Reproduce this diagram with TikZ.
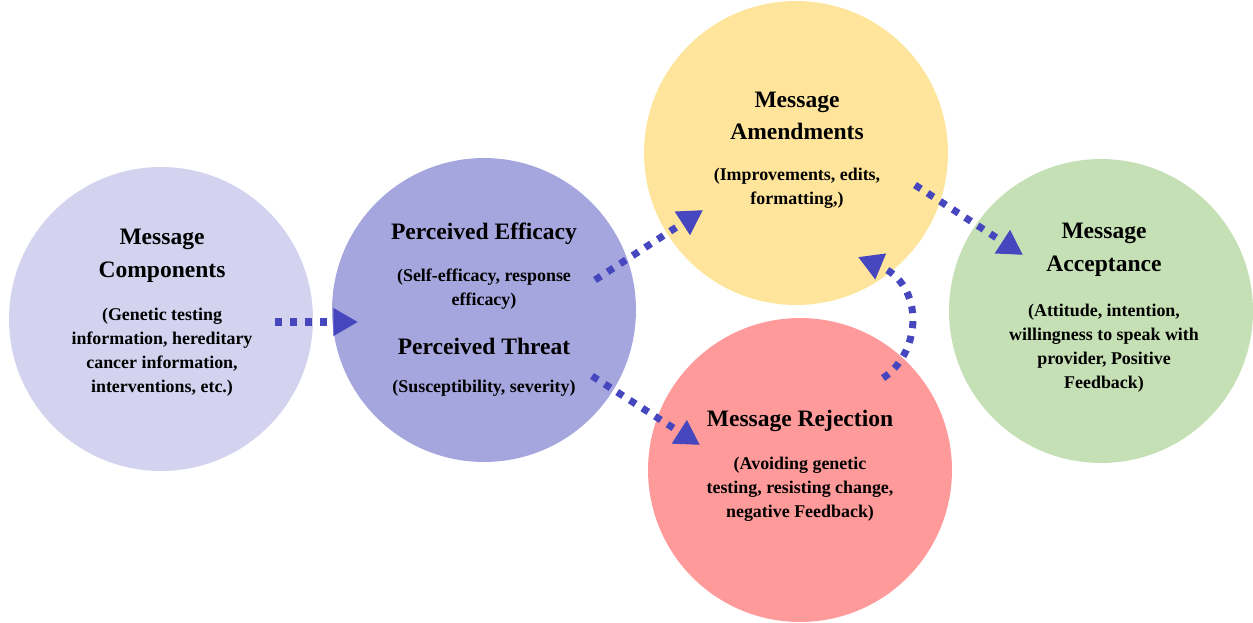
\documentclass[tikz,border=0pt]{standalone}
\usepackage{fontspec}
\setmainfont{Liberation Serif}
\usetikzlibrary{arrows.meta,positioning}
\definecolor{CompLavender}{HTML}{D3D3F0}
\definecolor{EffPurple}{HTML}{A6A6DF}
\definecolor{AmendYellow}{HTML}{FFE49B}
\definecolor{RejectRed}{HTML}{FF9A9A}
\definecolor{AcceptGreen}{HTML}{C6E0B5}
\definecolor{ArrowBlue}{HTML}{4646BE}
\tikzset{
    % Base circle style
    basecircle/.style={
        circle,
        draw=none,
        minimum size=6.08cm,
        inner sep=0pt
    },
    % Title text
    titletext/.style={
        align=center,
        font=\fontsize{13.4}{18.6}\selectfont\bfseries
    },
    % Detail text
    subtext/.style={
        align=center,
        font=\fontsize{10.2}{13.6}\selectfont\bfseries
    },
    % Dotted arrow
    dotarrow/.style={
        -{Triangle[length=14pt,width=15pt]},
        line width=4pt,
        dash pattern=on 4pt off 4.5pt,
        draw=ArrowBlue
    }
}
\begin{document}
\begin{tikzpicture}[x=0.02cm, y=-0.02cm]
    \useasboundingbox (0,0) rectangle (1253,622);
    % circles
    \node[basecircle, fill=CompLavender] (comp) at (161,319) {};
    \node[basecircle, fill=EffPurple] (eff) at (484,310) {};
    \node[basecircle, fill=AmendYellow] (amend) at (796,153) {};
    \node[basecircle, fill=RejectRed] (reject) at (800,470) {};
    \node[basecircle, fill=AcceptGreen] (accept) at (1101,311) {};

    % texts
    \node[titletext] (comptitle) at (162,256) {Message\\Components};
    \node[subtext] (compsub) at (162,352) {(Genetic testing\\information, hereditary\\cancer information,\\interventions, etc.)};
    \node[titletext] (efftitle) at (484,234) {Perceived Efficacy};
    \node[subtext] (effsub) at (484,289) {(Self-efficacy, response\\efficacy)};
    \node[titletext] (threattitle) at (484,346) {Perceived Threat};
    \node[subtext] (threatsub) at (484,388) {(Susceptibility, severity)};
    \node[titletext] (amendtitle) at (797,116) {Message\\Amendments};
    \node[subtext] (amendsub) at (797,188) {(Improvements, edits,\\formatting,)};
    \node[titletext] (rejecttitle) at (800,421) {Message Rejection};
    \node[subtext] (rejectsub) at (800,489) {(Avoiding genetic\\testing, resisting change,\\negative Feedback)};
    \node[titletext] (accepttitle) at (1104,250) {Message\\Acceptance};
    \node[subtext] (acceptsub) at (1104,348) {(Attitude, intention,\\willingness to speak with\\provider, Positive\\Feedback)};

    % arrow ends
    \coordinate (a1s) at (275,322);
    \coordinate (a1e) at (358,322);
    \coordinate (a2s) at (595,280);
    \coordinate (a2e) at (703,210);
    \coordinate (a3s) at (592,376);
    \coordinate (a3e) at (700,445);
    \coordinate (a4s) at (915,185);
    \coordinate (a4e) at (1023,255);
    \coordinate (a5s) at (883,378);
    \coordinate (a5e) at (858,257);

    \draw[dotarrow] (a1s) -- (a1e);
    \draw[dotarrow] (a2s) -- (a2e);
    \draw[dotarrow] (a3s) -- (a3e);
    \draw[dotarrow] (a4s) -- (a4e);
    \draw[dotarrow] (a5s) .. controls (922,352) and (925,285) .. (a5e);
\end{tikzpicture}
\end{document}
